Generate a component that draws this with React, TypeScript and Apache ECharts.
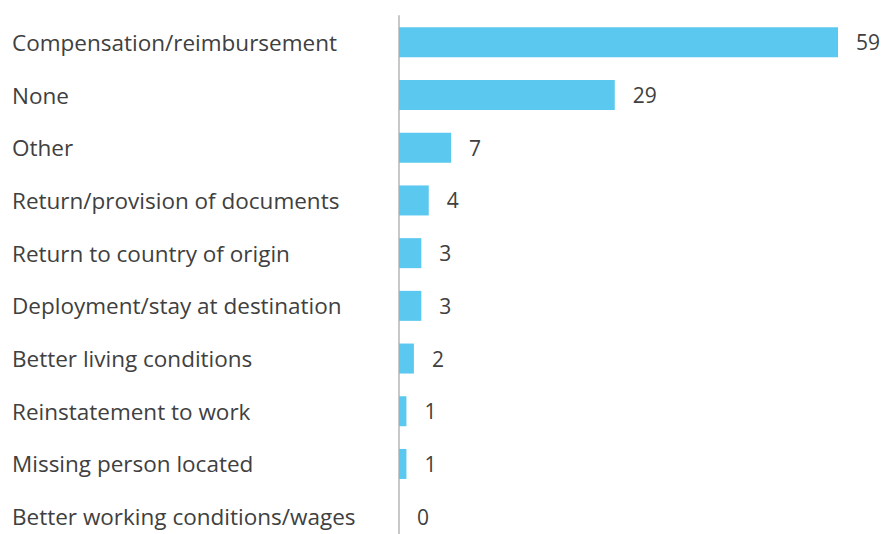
import React, { useEffect, useRef } from "react";
import * as echarts from "echarts";

const categories = [
  "Compensation/reimbursement",
  "None",
  "Other",
  "Return/provision of documents",
  "Return to country of origin",
  "Deployment/stay at destination",
  "Better living conditions",
  "Reinstatement to work",
  "Missing person located",
  "Better working conditions/wages",
];
const values = [59, 29, 7, 4, 3, 3, 2, 1, 1, 0];

export default function App() {
  const ref = useRef<HTMLDivElement>(null);
  useEffect(() => {
    document.body.style.margin = "0";
    const chart = echarts.init(ref.current!, null, { renderer: "svg" });
    chart.setOption({
      animation: false,
      grid: {
        left: 399,
        width: 439,
        top: 16,
        height: 527,
        containLabel: false,
        outerBoundsMode: "none",
      },
      xAxis: {
        type: "value",
        min: 0,
        max: 59,
        show: false,
      },
      yAxis: {
        type: "category",
        data: categories,
        inverse: true,
        axisLine: { show: true, lineStyle: { color: "#c8c8c8", width: 2 } },
        axisTick: { show: false },
        axisLabel: {
          align: "left",
          margin: 387,
          color: "#404040",
          fontSize: 22.5,
          fontFamily: "Open Sans",
        },
      },
      series: [
        {
          type: "bar",
          data: values,
          barWidth: 30,
          itemStyle: { color: "#5bc8ef" },
          label: {
            show: true,
            position: "right",
            distance: 18,
            color: "#404040",
            fontSize: 21,
            fontFamily: "Open Sans",
          },
        },
      ],
    });
    return () => chart.dispose();
  }, []);
  return <div ref={ref} style={{ width: 883, height: 534 }} />;
}
